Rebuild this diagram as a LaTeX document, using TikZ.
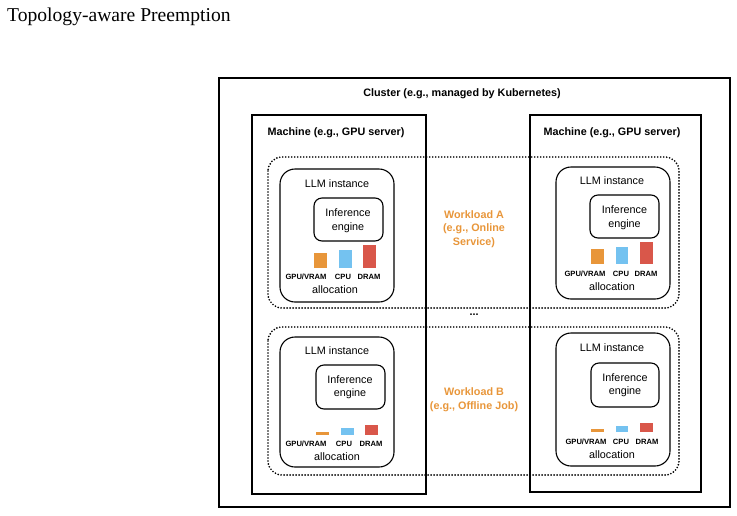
\documentclass[tikz,border=0pt]{standalone}
\usepackage{fontspec}
\setmainfont{Liberation Serif}
\setsansfont{Liberation Sans}
\usetikzlibrary{positioning}

\definecolor{wlorange}{RGB}{232,150,58}
\definecolor{cpublue}{RGB}{116,194,240}
\definecolor{dramred}{RGB}{217,87,74}

\tikzset{
  box/.style={draw, line width=1.2pt},
  inst/.style={draw, line width=1.1pt, rounded corners=15pt},
  engine/.style={draw, line width=1.1pt, rounded corners=8pt},
  workload/.style={draw, line width=1.9pt, line cap=round, dash pattern=on 0pt off 3pt, rounded corners=14pt},
  lbl/.style={font=\sffamily\fontsize{10.8}{13.5}\selectfont, inner sep=0pt, align=center},
  blbl/.style={lbl, font=\sffamily\bfseries\fontsize{10.8}{13.5}\selectfont},
  res/.style={font=\sffamily\bfseries\fontsize{7.6}{9}\selectfont, inner sep=0pt},
}

\begin{document}
\begin{tikzpicture}[x=1pt, y=-1pt]
			\useasboundingbox (0,0) rectangle (737,515);

			\node[anchor=base west, inner sep=0pt, font=\fontsize{19.6}{22}\selectfont] (title) at (7,21) {Topology-aware Preemption};

			% Cluster and machines
			\draw[box] (219,78) rectangle (730,507);
			\node[blbl] (cluster) at (462,94) {Cluster (e.g., managed by Kubernetes)};

			\draw[box] (252,115) rectangle (426,494);
			\node[blbl] (machineL) at (336,133) {Machine (e.g., GPU server)};

			\draw[box] (530,115) rectangle (701,492);
			\node[blbl] (machineR) at (612,133) {Machine (e.g., GPU server)};

			% Workloads
			\draw[workload] (268,157) rectangle (679,308);
			\node[blbl, text=wlorange] (wlA) at (474,229) {Workload A\\(e.g., Online\\Service)};

			\draw[workload] (268,327) rectangle (679,475);
			\node[blbl, text=wlorange] (wlB) at (474,399.5) {Workload B\\(e.g., Offline Job)};

			\node[blbl] (dots) at (474,315) {...};

			% Instance, top left
			\draw[inst] (280,169) rectangle (394,302);
			\node[lbl] (llmA1) at (337,184) {LLM instance};
			\draw[engine] (314,198) rectangle (383,241);
			\node[lbl] (engA1) at (348,220.5) {Inference\\engine};
			\fill[wlorange] (314,253) rectangle (327,268);
			\fill[cpublue] (339,250) rectangle (352,268);
			\fill[dramred] (363,245) rectangle (376,268);
			\node[res] (gpuA1) at (306,277) {GPU/VRAM};
			\node[res] (cpuA1) at (343,277) {CPU};
			\node[res] (dramA1) at (369,277) {DRAM};
			\node[lbl] (allocA1) at (335,290) {allocation};

			% Instance, top right
			\draw[inst] (556,167) rectangle (670,299);
			\node[lbl] (llmA2) at (612,181) {LLM instance};
			\draw[engine] (590,195) rectangle (659,238);
			\node[lbl] (engA2) at (624.5,217.5) {Inference\\engine};
			\fill[wlorange] (591,249) rectangle (604,264);
			\fill[cpublue] (616,247) rectangle (628,264);
			\fill[dramred] (640,242) rectangle (653,264);
			\node[res] (gpuA2) at (585,274) {GPU/VRAM};
			\node[res] (cpuA2) at (621,274) {CPU};
			\node[res] (dramA2) at (646,274) {DRAM};
			\node[lbl] (allocA2) at (612,287) {allocation};

			% Instance, bottom left
			\draw[inst] (280,337) rectangle (394,467);
			\node[lbl] (llmB1) at (337,351) {LLM instance};
			\draw[engine] (316,365) rectangle (385,409);
			\node[lbl] (engB1) at (350,387) {Inference\\engine};
			\fill[wlorange] (316,432) rectangle (329,435);
			\fill[cpublue] (341,428) rectangle (354,435);
			\fill[dramred] (365,425) rectangle (378,435);
			\node[res] (gpuB1) at (306,444) {GPU/VRAM};
			\node[res] (cpuB1) at (344,444) {CPU};
			\node[res] (dramB1) at (371,444) {DRAM};
			\node[lbl] (allocB1) at (337,457) {allocation};

			% Instance, bottom right
			\draw[inst] (556,333) rectangle (670,466);
			\node[lbl] (llmB2) at (612,348) {LLM instance};
			\draw[engine] (591,363) rectangle (659,407);
			\node[lbl] (engB2) at (625,385) {Inference\\engine};
			\fill[wlorange] (591,429) rectangle (604,432);
			\fill[cpublue] (616,426) rectangle (628,432);
			\fill[dramred] (640,423) rectangle (653,432);
			\node[res] (gpuB2) at (586,442) {GPU/VRAM};
			\node[res] (cpuB2) at (621,442) {CPU};
			\node[res] (dramB2) at (647,442) {DRAM};
			\node[lbl] (allocB2) at (612,455) {allocation};

		\end{tikzpicture}
\end{document}
